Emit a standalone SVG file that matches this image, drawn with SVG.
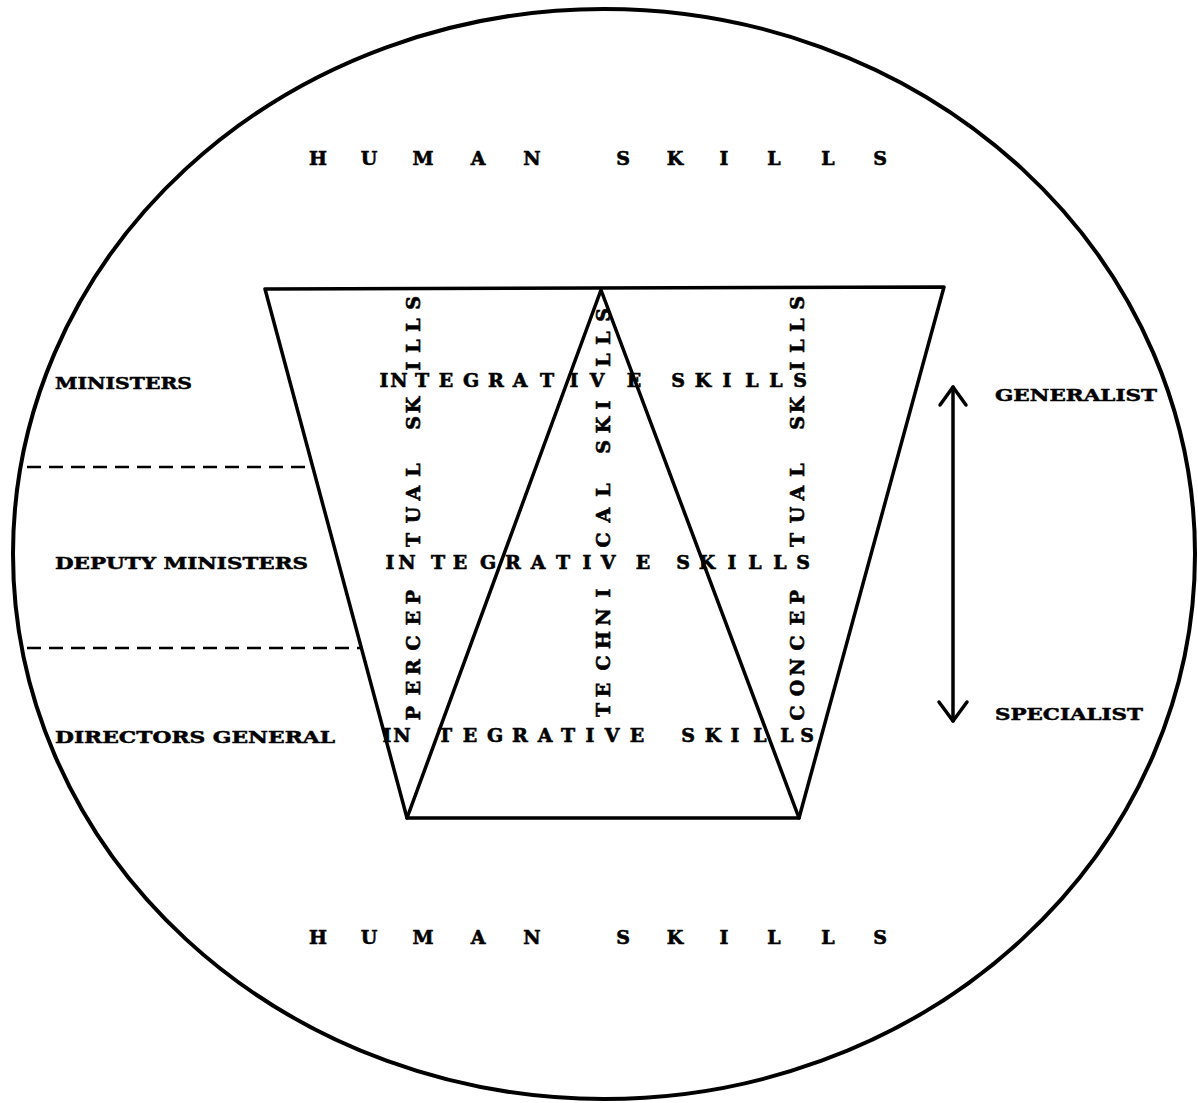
<svg xmlns="http://www.w3.org/2000/svg" width="1198" height="1103" viewBox="0 0 1198 1103">
<style>
  .t { font-family: "DejaVu Serif", "Liberation Serif", serif; font-weight: bold; font-size: 19px; fill: #000; stroke: #000; stroke-width: 0.6; }
  .m { text-anchor: middle; }
  .lbl { font-family: "DejaVu Serif", "Liberation Serif", serif; font-weight: bold; font-size: 17px; fill: #000; stroke: #000; stroke-width: 0.5; }
  .ln { fill: none; stroke: #000; stroke-width: 3.5; stroke-linejoin: round; stroke-linecap: round; }
  .dash { fill: none; stroke: #000; stroke-width: 2.5; stroke-dasharray: 14 8; }
</style>
<rect width="1198" height="1103" fill="#fff"/>

<g id="circle">
  <ellipse cx="604" cy="554" rx="591" ry="545" fill="none" stroke="#000" stroke-width="4"/>
</g>

<g id="human-skills-top">
  <text class="t m" y="165" x="318 369 423 478 532 578 623 675 724 774 828 880">HUMAN SKILLS</text>
</g>
<g id="human-skills-bottom">
  <text class="t m" y="944" x="318 369 423 478 532 578 623 675 724 774 828 880">HUMAN SKILLS</text>
</g>

<g id="trapezoid">
  <polygon class="ln" points="265,289 944,287 799,818 407,818"/>
</g>
<g id="triangle">
  <polyline class="ln" points="407,818 601,290 799,818"/>
</g>

<g id="connectors">
  <line class="dash" x1="27" y1="467" x2="312" y2="467"/>
  <line class="dash" x1="27" y1="648" x2="361" y2="648"/>
  <line class="ln" x1="953" y1="387" x2="953" y2="721" stroke-width="3"/>
  <polyline class="ln" points="940,405 953,387 966,405" stroke-width="3"/>
  <polyline class="ln" points="939,702 953,721 967,702" stroke-width="3"/>
</g>

<g id="integrative-rows">
  <text class="t m" y="387" x="384 399 422 446 471 496 520 547 574 597 634 656 678 703 727 752 776 800">INTEGRATIVE SKILLS</text>
  <text class="t m" y="569" x="390 407 438 460 488 513 538 563 587 608 643 663 683 707 732 755 780 803">INTEGRATIVE SKILLS</text>
  <text class="t m" y="742" x="387 402 445 470 495 520 545 568 590 612 637 662 688 713 735 760 787 807">INTEGRATIVE SKILLS</text>
</g>

<g id="perceptual-skills">
  <text class="t m" transform="translate(420,0) rotate(-90)" y="0" x="-713 -688 -667 -643 -618 -597 -540 -515 -493 -470 -447 -423 -405 -366 -346 -325 -303">PERCEPTUAL SKILLS</text>
</g>
<g id="technical-skills">
  <text class="t m" transform="translate(610,0) rotate(-90)" y="0" x="-710 -690 -663 -640 -617 -593 -540 -515 -490 -468 -447 -425 -405 -360 -338 -315">TECHNICAL SKILLS</text>
</g>
<g id="conceptual-skills">
  <text class="t m" transform="translate(804,0) rotate(-90)" y="0" x="-713 -688 -667 -643 -618 -597 -540 -515 -493 -470 -447 -423 -405 -366 -346 -325 -303">CONCEPTUAL SKILLS</text>
</g>

<g id="level-labels">
  <text class="lbl" x="55" y="389" textLength="137" lengthAdjust="spacingAndGlyphs">MINISTERS</text>
  <text class="lbl" x="55" y="569" textLength="253" lengthAdjust="spacingAndGlyphs">DEPUTY MINISTERS</text>
  <text class="lbl" x="55" y="743" textLength="280" lengthAdjust="spacingAndGlyphs">DIRECTORS GENERAL</text>
</g>
<g id="scale-labels">
  <text class="lbl" x="995" y="401" textLength="162" lengthAdjust="spacingAndGlyphs">GENERALIST</text>
  <text class="lbl" x="995" y="720" textLength="148" lengthAdjust="spacingAndGlyphs">SPECIALIST</text>
</g>
</svg>
